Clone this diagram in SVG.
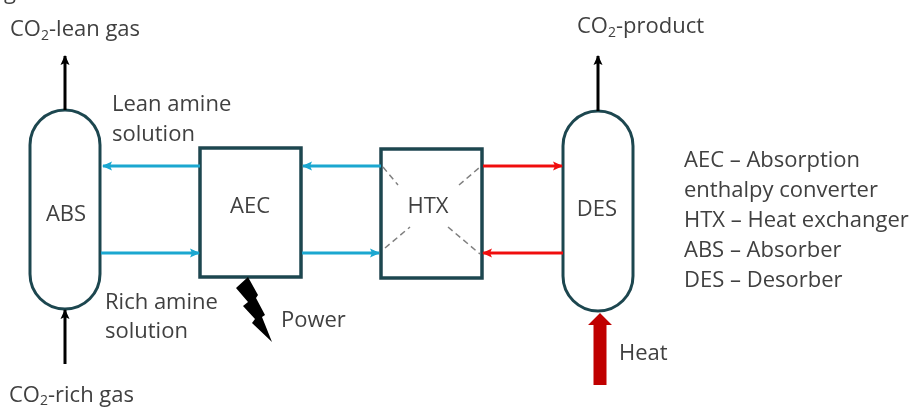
<svg xmlns="http://www.w3.org/2000/svg" width="911" height="408" viewBox="0 0 911 408">
<style>
text{font-family:"Open Sans","Liberation Sans",sans-serif;font-size:22px;fill:#404040}
.sub{font-size:14px}
.vessel{fill:#fff;stroke:#1f4650;stroke-width:3}
.box{fill:#fff;stroke:#1f4650;stroke-width:3.5}
.bk{stroke:#000;stroke-width:3;fill:none}
.bl{stroke:#1aa7d0;stroke-width:3;fill:none}
.rd{stroke:#f01010;stroke-width:3;fill:none}
.da{stroke:#808080;stroke-width:1.5;stroke-dasharray:6 4;fill:none}
</style>
<defs>
<filter id="soft" x="0" y="0" width="100%" height="100%"><feGaussianBlur stdDeviation="0.45"/></filter>
<marker id="ak" markerUnits="userSpaceOnUse" markerWidth="10" markerHeight="10" refX="9" refY="5" orient="auto"><path d="M0 0.5L10 5L0 9.5L2 5Z" fill="#000"/></marker>
<marker id="ab" markerUnits="userSpaceOnUse" markerWidth="10" markerHeight="10" refX="9" refY="5" orient="auto"><path d="M0 0.5L10 5L0 9.5L2 5Z" fill="#1aa7d0"/></marker>
<marker id="ar" markerUnits="userSpaceOnUse" markerWidth="10" markerHeight="10" refX="9" refY="5" orient="auto"><path d="M0 0.5L10 5L0 9.5L2 5Z" fill="#f01010"/></marker>
</defs>
<g filter="url(#soft)">
<text x="4" y="-1">g</text>
<g id="ABS"><rect class="vessel" x="30" y="110" width="70" height="199" rx="35" ry="35"/><text x="66" y="221" text-anchor="middle">ABS</text></g>
<g id="AEC"><rect class="box" x="200" y="148" width="101" height="129"/><text x="250" y="213" text-anchor="middle">AEC</text></g>
<g id="HTX"><rect class="box" x="381" y="149" width="101" height="129"/><text x="428" y="213" text-anchor="middle">HTX</text>
<path class="da" d="M383 167L398 185M459 185L480 167M385 248L410 227M448 227L480 254"/></g>
<g id="DES"><rect class="vessel" x="563" y="111" width="70" height="200" rx="35" ry="35"/><text x="597" y="216" text-anchor="middle">DES</text></g>
<g id="connectors">
<path class="bk" marker-end="url(#ak)" d="M65 110V56"/>
<path class="bk" marker-end="url(#ak)" d="M65 364V310"/>
<path class="bk" marker-end="url(#ak)" d="M598 111V56"/>
<path class="bl" marker-end="url(#ab)" d="M200 166H103"/>
<path class="bl" marker-end="url(#ab)" d="M101 253H199"/>
<path class="bl" marker-end="url(#ab)" d="M381 166H303"/>
<path class="bl" marker-end="url(#ab)" d="M302 253H379"/>
<path class="rd" marker-end="url(#ar)" d="M483 166H562"/>
<path class="rd" marker-end="url(#ar)" d="M563 253H483"/>
<path id="heat" d="M593.500 385V325H588L600 313L612 325H606.500V385Z" fill="#c00000"/>
<path id="bolt" d="M248 277L258 295L256 298L265 315L262 317L272 342L252 323L255 319L243 306L248 302L236 288Z" fill="#000"/>
</g>
<g id="labels">
<text x="10" y="36">CO<tspan class="sub" dy="4">2</tspan><tspan dy="-4">-lean gas</tspan></text>
<text x="577" y="33">CO<tspan class="sub" dy="4">2</tspan><tspan dy="-4">-product</tspan></text>
<text x="112" y="111">Lean amine</text>
<text x="112" y="141">solution</text>
<text x="105" y="309">Rich amine</text>
<text x="105" y="338">solution</text>
<text x="281" y="327">Power</text>
<text x="619" y="360">Heat</text>
<text x="9" y="402">CO<tspan class="sub" dy="3">2</tspan><tspan dy="-3">-rich gas</tspan></text>
<text x="684" y="167">AEC – Absorption</text>
<text x="684" y="197">enthalpy converter</text>
<text x="684" y="227">HTX – Heat exchanger</text>
<text x="684" y="257">ABS – Absorber</text>
<text x="684" y="287">DES – Desorber</text>
</g>
</g>
</svg>
